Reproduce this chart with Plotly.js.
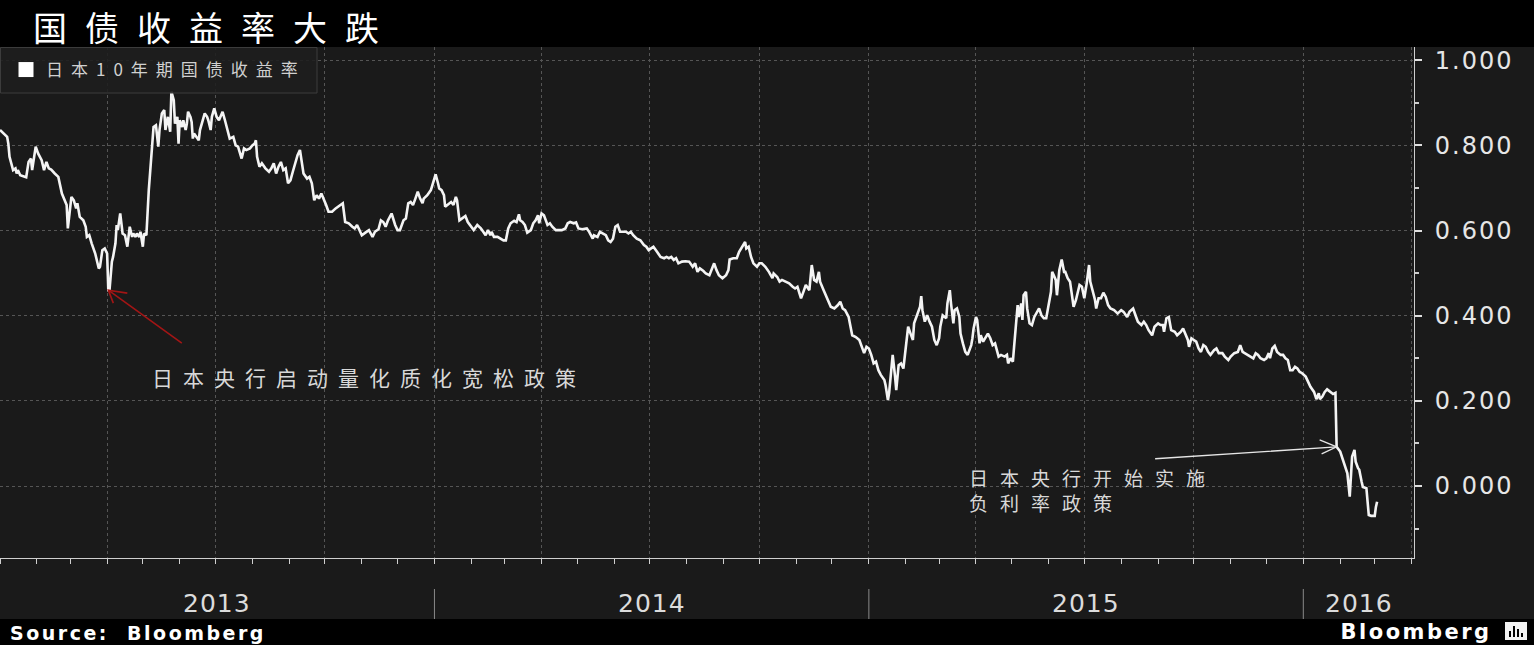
<!DOCTYPE html>
<html>
<head>
<meta charset="utf-8">
<script src="https://cdn.plot.ly/plotly-3.0.1.min.js"></script>
<style>
body{margin:0;background:#000;}
#chart{width:1534px;height:645px;}
.gtitle{letter-spacing:18px;}
.legendtext{letter-spacing:8px;}
.ytick text{letter-spacing:2px;}
.annotation[data-index="1"] text{letter-spacing:10px;}
.annotation[data-index="3"] text{letter-spacing:12px;}
.annotation[data-index="4"] text,.annotation[data-index="5"] text,.annotation[data-index="6"] text,.annotation[data-index="7"] text{letter-spacing:1px;}
.annotation[data-index="8"] text,.annotation[data-index="9"] text{letter-spacing:2.5px;}
</style>
</head>
<body>
<div id="chart"></div>
<script>
// ---- data: days since 2013-01-01, Japan 10y JGB yield (%) ----
const startDate = '2013-01-01';
const endDate = '2016-04-03';
const seriesName = '日本10年期国债收益率';
const chartTitle = '国债收益率大跌';
const note1 = '日本央行启动量化质化宽松政策';
const note2a = '日本央行开始实施';
const note2b = '负利率政策';
const nirpDay = 1123; // 2016-01-29
const years = [2013, 2014, 2015, 2016];

const days = [
0,3,6,7,8,11,13,14,15,17,20,22,24,26,27,28,30,32,35,37,
39,41,43,46,49,52,55,56,57,59,60,62,64,65,67,70,72,73,75,77,
80,83,84,86,88,90,91,92,94,95,97,98,99,101,103,105,107,109,111,112,
114,115,117,118,120,121,123,125,128,129,131,133,134,136,138,139,141,143,144,146,
147,149,150,151,153,154,156,157,158,160,161,162,163,165,167,168,170,172,174,175,
177,178,180,182,184,186,187,189,191,193,196,198,200,202,203,205,207,210,212,214,
215,216,218,220,223,226,228,230,232,234,236,238,240,242,244,246,248,250,252,254,
255,258,260,262,264,266,268,270,272,274,276,279,282,284,
288,290,293,296,298,300,302,304,307,310,
313,315,318,320,322,324,326,329,332,334,
336,339,341,343,345,347,349,351,353,355,
356,359,362,364,366,368,369,371,373,374,
377,379,381,383,384,386,388,391,393,395,
398,401,404,406,408,410,412,413,415,418,
420,423,425,427,429,432,434,436,437,439,
441,443,446,448,450,452,453,455,457,460,
462,464,467,469,472,475,477,479,482,484,
486,489,493,495,498,499,502,504,506,509,
511,513,515,517,519,521,524,526,528,530,
532,535,538,541,543,545,547,549,552,555,
558,560,562,564,566,568,570,573,576,579,
582,584,586,588,591,593,596,598,600,602,
604,607,610,612,613,616,619,621,624,626,
627,629,631,633,636,638,
640,643,646,649,650,653,655,657,660,663,
666,668,670,673,675,677,680,681,682,684,
686,688,689,692,695,698,701,704,706,708,
710,713,716,719,722,725,726,728,730,732,
734,736,738,740,743,744,746,747,748,750,
752,753,755,757,759,761,763,765,767,768,
771,773,774,775,777,779,781,783,785,787,
789,790,792,795,796,798,799,801,802,804,
806,807,809,811,813,816,817,818,820,821,
823,824,826,828,830,832,834,836,837,839,
841,844,846,847,849,851,852,853,855,856,
858,859,860,862,863,865,867,869,871,873,
875,877,879,881,883,884,886,887,888,890,
892,894,895,897,899,901,902,904,906,907,
909,911,913,915,916,918,920,921,923,925,
927,929,931,933,936,939,
942,944,947,949,952,954,956,959,961,963,
965,968,970,973,975,977,978,980,982,984,
987,989,992,994,996,998,999,1001,1003,1005,
1007,1009,1011,1013,1015,1017,1020,1022,1024,1027,
1029,1032,1034,1037,1040,1042,1044,1046,1048,1051,
1053,1055,1057,1059,1062,1064,1066,1067,1069,1071,
1073,1076,1078,1080,1082,1084,1086,1088,1090,1092,
1094,1097,1099,1101,1104,1106,1108,1109,1111,1113,
1115,1118,1120,1122,1123,1126,1127,1129,1131,1132,
1134,1135,1136,1138,1139,1141,1142,1144,1145,1148,
1149,1150,1152,1155,1156,1157
];

const yields = [
0.836,0.828,0.820,0.804,0.773,0.742,0.746,0.734,0.742,0.730,0.726,0.725,0.761,0.769,0.742,0.765,0.797,0.781,0.765,0.742,
0.761,0.746,0.743,0.734,0.726,0.687,0.667,0.660,0.605,0.648,0.679,0.671,0.652,0.664,0.632,0.624,0.609,0.585,0.589,0.570,
0.546,0.511,0.515,0.554,0.558,0.546,0.460,0.460,0.527,0.538,0.570,0.613,0.601,0.640,0.593,0.589,0.562,0.609,0.585,0.593,
0.585,0.593,0.585,0.597,0.562,0.593,0.589,0.695,0.797,0.843,0.847,0.797,0.836,0.875,0.883,0.836,0.867,0.832,0.926,0.906,
0.851,0.867,0.804,0.859,0.843,0.859,0.836,0.851,0.879,0.867,0.855,0.816,0.828,0.820,0.812,0.836,0.859,0.875,0.867,0.859,
0.836,0.867,0.887,0.867,0.859,0.875,0.879,0.859,0.836,0.816,0.820,0.800,0.797,0.777,0.769,0.793,0.789,0.793,0.800,0.804,
0.812,0.773,0.750,0.758,0.746,0.738,0.746,0.758,0.734,0.750,0.761,0.742,0.746,0.711,0.718,0.738,0.758,0.777,0.789,0.758,
0.734,0.722,0.726,0.711,0.671,0.683,0.675,0.687,0.675,0.660,0.644,0.644,0.652,0.656,
0.664,0.620,0.617,0.609,0.605,0.613,0.601,0.589,0.595,0.601,
0.585,0.597,0.603,0.624,0.620,0.609,0.624,0.640,0.613,0.601,
0.601,0.624,0.628,0.664,0.667,0.660,0.675,0.691,0.675,0.664,
0.675,0.683,0.695,0.714,0.732,0.711,0.699,0.695,0.683,0.656,
0.664,0.667,0.660,0.679,0.671,0.624,0.628,0.634,0.620,0.613,
0.601,0.613,0.605,0.597,0.589,0.601,0.589,0.597,0.585,0.585,
0.581,0.577,0.577,0.605,0.617,0.623,0.620,0.638,0.624,0.620,
0.613,0.595,0.601,0.617,0.624,0.636,0.617,0.640,0.636,0.613,
0.617,0.609,0.601,0.601,0.601,0.605,0.617,0.620,0.617,0.619,
0.605,0.603,0.605,0.597,0.581,0.589,0.585,0.597,0.593,0.589,
0.577,0.573,0.581,0.609,0.613,0.597,0.597,0.597,0.593,0.597,
0.589,0.581,0.577,0.566,0.562,0.554,0.558,0.562,0.550,0.538,
0.535,0.538,0.535,0.538,0.531,0.535,0.523,0.527,0.528,0.527,
0.515,0.523,0.503,0.511,0.505,0.499,0.495,0.511,0.523,0.507,
0.495,0.488,0.495,0.507,0.532,0.535,0.535,0.550,0.566,0.573,
0.558,0.562,0.538,0.523,0.515,0.523,
0.523,0.515,0.503,0.488,0.499,0.491,0.480,0.484,0.480,0.476,
0.468,0.464,0.468,0.441,0.456,0.472,0.460,0.495,0.519,0.484,
0.480,0.503,0.480,0.460,0.441,0.421,0.417,0.425,0.433,0.417,
0.413,0.397,0.354,0.350,0.343,0.323,0.312,0.327,0.323,0.308,
0.288,0.292,0.272,0.261,0.249,0.237,0.202,0.218,0.249,0.308,
0.257,0.225,0.284,0.288,0.276,0.327,0.374,0.358,0.343,0.382,
0.405,0.421,0.446,0.413,0.386,0.401,0.386,0.374,0.343,0.331,
0.347,0.374,0.401,0.394,0.429,0.460,0.429,0.382,0.413,0.417,
0.397,0.358,0.335,0.315,0.308,0.331,0.347,0.370,0.397,0.390,
0.335,0.354,0.339,0.350,0.358,0.347,0.331,0.335,0.323,0.304,
0.308,0.304,0.308,0.288,0.300,0.292,0.327,0.358,0.425,0.397,
0.429,0.390,0.448,0.456,0.417,0.382,0.378,0.397,0.409,0.417,
0.401,0.394,0.394,0.421,0.456,0.503,0.491,0.484,0.448,0.507,
0.532,0.503,0.503,0.488,0.480,0.433,0.421,0.437,0.460,0.472,
0.468,0.441,0.476,0.519,0.480,0.460,0.437,0.417,0.441,0.441,
0.454,0.444,0.425,0.417,0.413,0.405,
0.413,0.409,0.397,0.409,0.417,0.401,0.386,0.378,0.386,0.378,
0.366,0.354,0.374,0.382,0.378,0.378,0.362,0.394,0.397,0.366,
0.362,0.354,0.362,0.370,0.354,0.343,0.327,0.347,0.343,0.339,
0.323,0.315,0.331,0.327,0.315,0.308,0.319,0.323,0.312,0.312,
0.304,0.296,0.304,0.312,0.315,0.331,0.315,0.312,0.308,0.304,
0.300,0.312,0.308,0.300,0.296,0.300,0.312,0.300,0.323,0.329,
0.315,0.308,0.308,0.300,0.296,0.272,0.272,0.280,0.276,0.268,
0.265,0.257,0.245,0.233,0.221,0.204,0.218,0.204,0.210,0.221,
0.227,0.221,0.216,0.219,0.092,0.081,0.073,0.057,0.038,0.030,
-0.025,0.030,0.069,0.085,0.057,0.042,0.038,0.010,-0.002,-0.005,
-0.049,-0.068,-0.070,-0.070,-0.049,-0.037
];

// ---- build the date table ----
const n = Math.min(days.length, yields.length);
const t0 = Date.parse(startDate + 'T00:00:00Z');
const tEnd = Date.parse(endDate + 'T00:00:00Z');
const iso = ms => new Date(ms).toISOString().replace('T',' ').slice(0,19);
const dates = days.slice(0, n).map(d => iso(t0 + d * 864e5));
const ys = yields.slice(0, n);

// QQE low (spring 2013) and NIRP point
let qqeIdx = 0;
for (let i = 0; i < n; i++) { if (days[i] < 200 && ys[i] < ys[qqeIdx]) qqeIdx = i; }
const nirpIdx = days.indexOf(nirpDay);

// layout helpers (paper units)
const W = 1534, H = 645, mL = 0, mR = 120, mT = 47, mB = 87;
const pw = W - mL - mR, ph = H - mT - mB;
const px = x => (x - mL) / pw;          // pixel x -> paper x
const py = y => (H - mB - y) / ph;      // pixel y -> paper y

const yearAnn = years.map(yr => {
  const a = Math.max(Date.UTC(yr,0,1), t0), b = Math.min(Date.UTC(yr+1,0,1), tEnd);
  return {x: iso((a+b)/2), xref:'x', y: py(603), yref:'paper', text: String(yr), showarrow:false,
          xanchor:'center', yanchor:'middle', font:{family:'DejaVu Sans', size:25, color:'#dcdcdc'}};
});
const yearSep = years.filter(yr => Date.UTC(yr,0,1) > t0).map(yr => ({
  type:'line', xref:'x', yref:'paper', x0: iso(Date.UTC(yr,0,1)), x1: iso(Date.UTC(yr,0,1)),
  y0: py(589), y1: py(619), line:{color:'#8a8a8a', width:1}
}));

const traces = [
  {x: dates, y: ys, type:'scatter', mode:'lines', line:{color:'#f4f4f4', width:2.6}, showlegend:false, hoverinfo:'skip'},
  {x:[null], y:[null], type:'scatter', mode:'markers', name: seriesName,
   marker:{symbol:'square', size:15, color:'#ffffff'}}
];

const layout = {
  width: W, height: H,
  margin:{l:mL, r:mR, t:mT, b:mB, pad:0},
  paper_bgcolor:'#1a1a1a', plot_bgcolor:'#1a1a1a',
  title:{text: chartTitle, x: 33/W, xref:'container', xanchor:'left', y: 1-29/H, yref:'container', yanchor:'middle',
         font:{family:'Noto Sans CJK SC', size:34, color:'#ffffff'}},
  showlegend:true,
  legend:{x: px(6), y: py(70), xanchor:'left', yanchor:'middle', bgcolor:'rgba(0,0,0,0)', borderwidth:0,
          font:{family:'Noto Sans CJK SC', size:17, color:'#d0d0d0'}, itemwidth:30},
  xaxis:{type:'date', range:[startDate, endDate], showline:true, linecolor:'#cfcfcf', linewidth:1,
         ticks:'outside', ticklen:5, tickwidth:1, tickcolor:'#cfcfcf', dtick:'M3', tick0:startDate,
         showticklabels:false, showgrid:true, gridcolor:'#555555', griddash:'dot', gridwidth:1, zeroline:false,
         minor:{dtick:'M1', ticks:'outside', ticklen:5, tickcolor:'#cfcfcf', showgrid:false}},
  yaxis:{range:[-0.169, 1.031], side:'right', showline:true, linecolor:'#cfcfcf', linewidth:1,
         ticks:'outside', ticklen:7, tickwidth:2, tickcolor:'#e0e0e0', dtick:0.2, tick0:0, tickformat:'.3f',
         ticklabelstandoff:8,
         tickfont:{family:'DejaVu Sans', size:24, color:'#e6e6e6'},
         showgrid:true, gridcolor:'#555555', griddash:'dot', gridwidth:1, zeroline:false,
         minor:{dtick:0.1, ticks:'outside', ticklen:4, tickcolor:'#cfcfcf', showgrid:false}},
  shapes:[
    {type:'rect', xref:'paper', yref:'paper', x0:0, x1: px(W), y0:1, y1: py(0), fillcolor:'#000000', line:{width:0}, layer:'below'},
    {type:'rect', xref:'paper', yref:'paper', x0:0, x1: px(W), y0: py(619), y1: py(H), fillcolor:'#000000', line:{width:0}, layer:'below'},
    {type:'rect', xref:'paper', yref:'paper', x0: px(0.5), x1: px(317), y0: py(47.5), y1: py(93), fillcolor:'rgba(30,30,30,0.88)', line:{color:'#3c3c3c', width:1}, layer:'above'},
    ...yearSep,
    // arrow heads (open chevrons) anchored at the annotated data points
    {type:'path', xref:'x', yref:'y', xsizemode:'pixel', ysizemode:'pixel', xanchor: dates[qqeIdx], yanchor: ys[qqeIdx],
     path:'M19,-3 L0,0 L5,-13', line:{color:'#a31515', width:1.6}},
    {type:'path', xref:'x', yref:'y', xsizemode:'pixel', ysizemode:'pixel', xanchor: dates[nirpIdx], yanchor: ys[nirpIdx],
     path:'M-17,7 L0,0 L-15,-7', line:{color:'#e6e6e6', width:1.3}},
    // Bloomberg icon
    {type:'rect', xref:'paper', yref:'paper', x0: px(1505), x1: px(1527), y0: py(622), y1: py(640), fillcolor:'#f2f2f2', line:{width:0}},
    {type:'rect', xref:'paper', yref:'paper', x0: px(1509), x1: px(1511), y0: py(631), y1: py(637), fillcolor:'#000', line:{width:0}},
    {type:'rect', xref:'paper', yref:'paper', x0: px(1513), x1: px(1515), y0: py(626), y1: py(637), fillcolor:'#000', line:{width:0}},
    {type:'rect', xref:'paper', yref:'paper', x0: px(1517), x1: px(1519), y0: py(629), y1: py(637), fillcolor:'#000', line:{width:0}},
    {type:'rect', xref:'paper', yref:'paper', x0: px(1521), x1: px(1523), y0: py(633), y1: py(637), fillcolor:'#000', line:{width:0}}
  ],
  annotations:[
    {x: dates[qqeIdx], y: ys[qqeIdx], xref:'x', yref:'y', text:'', showarrow:true, arrowhead:0,
     arrowcolor:'#a31515', arrowwidth:1.6, ax:75, ay:54, standoff:0},
    {x: px(150), y: py(377), xref:'paper', yref:'paper', text: note1, showarrow:false, xanchor:'left', yanchor:'middle', align:'left',
     font:{family:'Noto Sans CJK SC', size:21, color:'#d8d8d8'}},
    {x: dates[nirpIdx], y: ys[nirpIdx], xref:'x', yref:'y', text:'', showarrow:true, arrowhead:0,
     arrowcolor:'#e6e6e6', arrowwidth:1.3, ax:-183, ay:12, standoff:0},
    {x: px(967), y: py(490), xref:'paper', yref:'paper', text: note2a + '<br>' + note2b, showarrow:false, xanchor:'left', yanchor:'middle', align:'left',
     font:{family:'Noto Sans CJK SC', size:19, color:'#d8d8d8'}},
    ...yearAnn,
    {x: px(8), y: py(633), xref:'paper', yref:'paper', text:'Source:  Bloomberg', showarrow:false, xanchor:'left', yanchor:'middle', align:'left',
     font:{family:'DejaVu Sans', size:19, color:'#ffffff', weight:700}},
    {x: px(1494), y: py(632), xref:'paper', yref:'paper', text:'Bloomberg', showarrow:false, xanchor:'right', yanchor:'middle', align:'right',
     font:{family:'DejaVu Sans', size:21, color:'#ffffff', weight:700}}
  ]
};

Plotly.newPlot('chart', traces, layout, {displayModeBar:false, responsive:false});
</script>
</body>
</html>
